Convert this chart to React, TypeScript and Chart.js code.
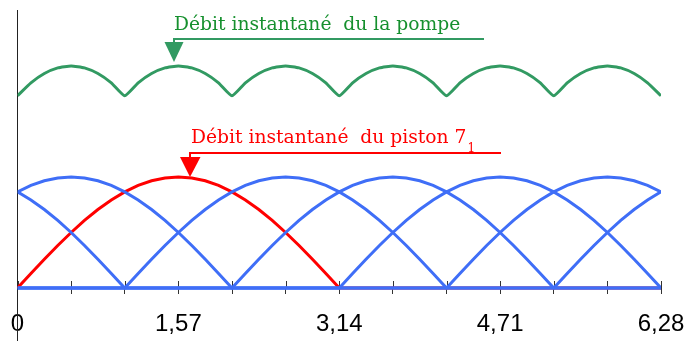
import React, { useEffect, useRef } from "react";
import { Chart, registerables } from "chart.js";

Chart.register(...registerables);

// angle (rad), step pi/24
const xValues = [
  0, 0.131, 0.262, 0.393, 0.524, 0.654, 0.785, 0.916, 1.047, 1.178, 1.309, 1.44, 1.571,
  1.702, 1.833, 1.963, 2.094, 2.225, 2.356, 2.487, 2.618, 2.749, 2.88, 3.011, 3.142,
  3.272, 3.403, 3.534, 3.665, 3.796, 3.927, 4.058, 4.189, 4.32, 4.451, 4.581, 4.712,
  4.843, 4.974, 5.105, 5.236, 5.367, 5.498, 5.629, 5.76, 5.89, 6.021, 6.152, 6.283,
];

// piston 7_1 (red)
const pistonRed = [
  0, 0.131, 0.259, 0.383, 0.5, 0.609, 0.707, 0.793, 0.866, 0.924, 0.966, 0.991, 1, 0.991, 0.966, 0.924,
  0.866, 0.793, 0.707, 0.609, 0.5, 0.383, 0.259, 0.131, 0,
  0, 0, 0, 0, 0, 0, 0, 0, 0, 0, 0, 0, 0, 0, 0, 0, 0, 0, 0, 0, 0, 0, 0, 0,
];

// other pistons (blue)
const pistonBlue1 = [
  0, 0, 0, 0, 0, 0, 0, 0,
  0, 0.131, 0.259, 0.383, 0.5, 0.609, 0.707, 0.793, 0.866, 0.924, 0.966, 0.991, 1, 0.991, 0.966, 0.924,
  0.866, 0.793, 0.707, 0.609, 0.5, 0.383, 0.259, 0.131, 0,
  0, 0, 0, 0, 0, 0, 0, 0, 0, 0, 0, 0, 0, 0, 0, 0,
];
const pistonBlue2 = [
  0, 0, 0, 0, 0, 0, 0, 0, 0, 0, 0, 0, 0, 0, 0, 0,
  0, 0.131, 0.259, 0.383, 0.5, 0.609, 0.707, 0.793, 0.866, 0.924, 0.966, 0.991, 1, 0.991, 0.966, 0.924,
  0.866, 0.793, 0.707, 0.609, 0.5, 0.383, 0.259, 0.131, 0,
  0, 0, 0, 0, 0, 0, 0, 0,
];
const pistonBlue3 = [
  0, 0, 0, 0, 0, 0, 0, 0, 0, 0, 0, 0, 0, 0, 0, 0, 0, 0, 0, 0, 0, 0, 0, 0,
  0, 0.131, 0.259, 0.383, 0.5, 0.609, 0.707, 0.793, 0.866, 0.924, 0.966, 0.991, 1, 0.991, 0.966, 0.924,
  0.866, 0.793, 0.707, 0.609, 0.5, 0.383, 0.259, 0.131, 0,
];
const pistonBlue4 = [
  0.866, 0.793, 0.707, 0.609, 0.5, 0.383, 0.259, 0.131, 0,
  0, 0, 0, 0, 0, 0, 0, 0, 0, 0, 0, 0, 0, 0, 0, 0, 0, 0, 0, 0, 0, 0, 0,
  0, 0.131, 0.259, 0.383, 0.5, 0.609, 0.707, 0.793, 0.866, 0.924, 0.966, 0.991, 1, 0.991, 0.966, 0.924, 0.866,
];
const pistonBlue5 = [
  0.866, 0.924, 0.966, 0.991, 1, 0.991, 0.966, 0.924, 0.866, 0.793, 0.707, 0.609, 0.5, 0.383, 0.259, 0.131, 0,
  0, 0, 0, 0, 0, 0, 0, 0, 0, 0, 0, 0, 0, 0, 0, 0, 0, 0, 0, 0, 0, 0, 0,
  0, 0.131, 0.259, 0.383, 0.5, 0.609, 0.707, 0.793, 0.866,
];

// total pump flow (green)
const pumpTotal = [
  1.732, 1.848, 1.932, 1.983, 2, 1.983, 1.932, 1.848,
  1.732, 1.848, 1.932, 1.983, 2, 1.983, 1.932, 1.848,
  1.732, 1.848, 1.932, 1.983, 2, 1.983, 1.932, 1.848,
  1.732, 1.848, 1.932, 1.983, 2, 1.983, 1.932, 1.848,
  1.732, 1.848, 1.932, 1.983, 2, 1.983, 1.932, 1.848,
  1.732, 1.848, 1.932, 1.983, 2, 1.983, 1.932, 1.848,
  1.732,
];

const tickValues = [0, 0.5236, 1.0472, 1.5708, 2.0944, 2.618, 3.1416, 3.6652, 4.1888, 4.7124, 5.236, 5.7596, 6.2832];
const tickLabels = ["0", "", "", "1,57", "", "", "3,14", "", "", "4,71", "", "", "6,28"];

const pumpLabel = "Débit instantané  du la pompe";
const pistonLabel = "Débit instantané  du piston 7";
const pistonSub = "1";

const BLUE = "#3f6ef7";
const RED = "#ff0000";
const GREEN = "#329a62";
const GREEN_TEXT = "#16902e";

const upperTicks = {
  id: "upperTicks",
  beforeDatasetsDraw(chart: any) {
    const { ctx } = chart;
    const xs = chart.scales.x;
    const y0 = Math.round(chart.scales.y.getPixelForValue(0));
    ctx.save();
    ctx.strokeStyle = "#333";
    ctx.lineWidth = 1;
    ctx.beginPath();
    xs.ticks.forEach((t: any) => {
      const px = Math.round(xs.getPixelForValue(t.value)) + 0.5;
      ctx.moveTo(px, y0 - 7);
      ctx.lineTo(px, y0);
    });
    ctx.stroke();
    ctx.restore();
  },
};

const annotations = {
  id: "annotations",
  afterDatasetsDraw(chart: any) {
    const { ctx } = chart;
    ctx.save();
    // pump
    ctx.strokeStyle = GREEN;
    ctx.lineWidth = 2;
    ctx.beginPath();
    ctx.moveTo(484, 39);
    ctx.lineTo(174, 39);
    ctx.lineTo(174, 43);
    ctx.stroke();
    ctx.fillStyle = GREEN;
    ctx.beginPath();
    ctx.moveTo(164.5, 42);
    ctx.lineTo(183.5, 42);
    ctx.lineTo(174, 62);
    ctx.closePath();
    ctx.fill();
    ctx.font = '18.7px "DejaVu Serif"';
    ctx.fillStyle = GREEN_TEXT;
    ctx.textBaseline = "alphabetic";
    ctx.textAlign = "left";
    ctx.fillText(pumpLabel, 174, 30);
    // piston
    ctx.strokeStyle = RED;
    ctx.beginPath();
    ctx.moveTo(501, 153);
    ctx.lineTo(190, 153);
    ctx.lineTo(190, 158);
    ctx.stroke();
    ctx.fillStyle = RED;
    ctx.beginPath();
    ctx.moveTo(180, 157);
    ctx.lineTo(200.5, 157);
    ctx.lineTo(190, 177);
    ctx.closePath();
    ctx.fill();
    ctx.fillText(pistonLabel, 191, 143);
    const w = ctx.measureText(pistonLabel).width;
    ctx.font = '12px "DejaVu Serif"';
    ctx.fillText(pistonSub, 191 + w + 1, 152);
    ctx.restore();
  },
};

export default function App() {
  const ref = useRef<HTMLCanvasElement | null>(null);
  useEffect(() => {
    document.body.style.margin = "0";
    const line = (data: number[], color: string, w = 3) => ({
      data,
      borderColor: color,
      backgroundColor: color,
      borderWidth: w,
      pointRadius: 0,
      tension: 0,
      fill: false,
    });
    const chart = new Chart(ref.current as HTMLCanvasElement, {
      type: "line",
      data: {
        labels: xValues,
        datasets: [
          line(pistonBlue1, BLUE),
          line(pistonBlue2, BLUE),
          line(pistonBlue3, BLUE),
          line(pistonBlue4, BLUE),
          line(pistonBlue5, BLUE),
          line(pistonRed, RED),
          { ...line(pumpTotal, GREEN), tension: 0.15 },
        ],
      },
      options: {
        responsive: false,
        animation: false,
        layout: { padding: { left: 17.5, right: 27, top: 10.5, bottom: 0 } },
        plugins: { legend: { display: false }, tooltip: { enabled: false } },
        scales: {
          x: {
            type: "linear",
            min: 0,
            max: 6.2832,
            position: { y: 0 } as any,
            afterBuildTicks: (scale: any) => {
              scale.ticks = tickValues.map((v) => ({ value: v }));
            },
            ticks: {
              autoSkip: false,
              maxRotation: 0,
              padding: 0,
              color: "#000",
              font: { family: '"Liberation Sans", Arial, sans-serif', size: 24, lineHeight: 2.5 },
              callback: (_v: any, i: number) => tickLabels[i],
            },
            grid: {
              display: true,
              drawOnChartArea: false,
              drawTicks: true,
              tickLength: 6,
              color: "#333",
              lineWidth: 1,
            },
            border: { display: true, color: "#333", width: 1 },
          },
          y: {
            type: "linear",
            min: -0.4775,
            max: 2.5,
            position: { x: 0 } as any,
            ticks: { display: false },
            grid: { display: false },
            border: { display: true, color: "#222", width: 1 },
          },
        },
      },
      plugins: [upperTicks, annotations],
    });
    return () => chart.destroy();
  }, []);
  return (
    <div style={{ position: "absolute", left: 0, top: 0, width: 688, height: 341 }}>
      <canvas ref={ref} width={688} height={341} />
    </div>
  );
}
